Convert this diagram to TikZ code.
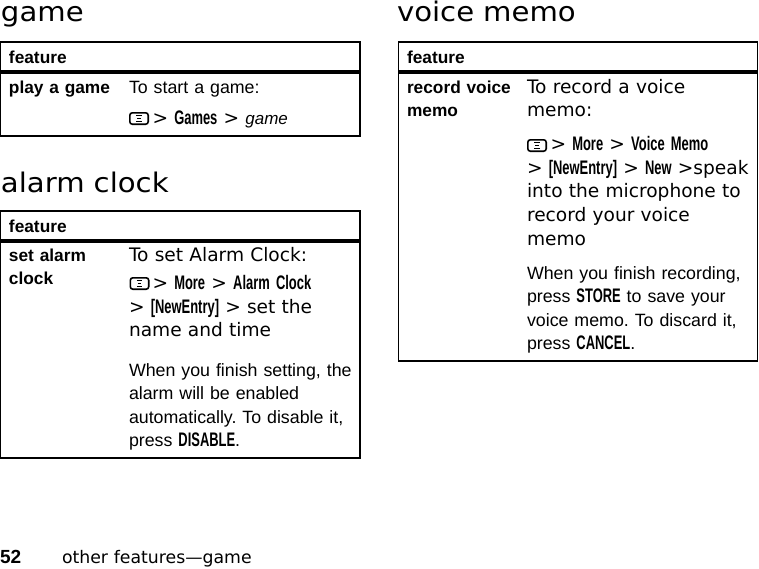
\documentclass[tikz,border=0pt]{standalone}
\usepackage{fontspec}
\setmainfont{Liberation Sans}
\newfontfamily\widefont{DejaVu Sans}
\newfontfamily\headfont[FakeStretch=1.08]{DejaVu Sans}
\newfontfamily\narrowfont{Liberation Sans}
\newfontfamily\condfont[FakeStretch=0.66]{Liberation Sans}
\newcommand\wtext{\widefont\fontsize{18.6}{23.8}\selectfont}
\newcommand\ntext{\narrowfont\fontsize{17.8}{23.6}\selectfont}
\newcommand\btext{\narrowfont\bfseries\fontsize{17.3}{23}\selectfont}
\newcommand\htext{\headfont\fontsize{27}{30}\selectfont}
\newcommand\kw[1]{{\condfont\bfseries\fontsize{19.6}{19.6}\selectfont #1}}
\frenchspacing
\begin{document}
\begin{tikzpicture}[x=1pt,y=-1pt,
  tbl/.style={line width=1.3pt},
  headrule/.style={line width=3.8pt},
  txt/.style={anchor=base west, inner sep=0pt, outer sep=0pt, text width=300pt, align=left},
  iconline/.style={line width=1.6pt},
  menuicon/.pic={
    \draw[iconline, rounded corners=2.5pt] (0.8,0.8) rectangle (19.2,12.2);
    \draw[line width=1.3pt] (7.3,3.6) -- (12.7,3.6) (8.2,6.5) -- (11.8,6.5) (7.3,9.4) -- (12.7,9.4);
  }]
\useasboundingbox (0,0) rectangle (759,568);

% ---------- game ----------
\node[txt,font=\htext] (h1) at (1,21) {game};
\draw[tbl] (0.65,42) rectangle (360,136);
\draw[headrule] (0,72) -- (360.65,72);
\node[txt,font=\btext] (f1) at (9,63) {feature};
\node[txt,font=\btext] (l1) at (9,93) {play a game};
\node[txt,font=\ntext] (t1a) at (129,93) {To start a game:};
\pic (i1) at (129,112) {menuicon};
\node[txt,font=\wtext] (t1b) at (152.5,124) {> \kw{Games} > {\narrowfont\itshape\fontsize{17}{17}\selectfont game}};

% ---------- alarm clock ----------
\node[txt,font=\htext] (h2) at (1,192) {alarm clock};
\draw[tbl] (0.65,211) rectangle (360,458);
\draw[headrule] (0,241) -- (360.65,241);
\node[txt,font=\btext] (f2) at (9,232) {feature};
\node[txt,font=\btext] (l2) at (9,261) {set alarm\\clock};
\node[txt,font=\wtext] (t2a) at (129,261) {To set Alarm Clock:};
\pic (i2) at (129.5,277) {menuicon};
\node[txt,font=\wtext] (t2b) at (152.5,289) {> \kw{More} > \kw{Alarm Clock}};
\node[txt,font=\wtext] (t2c) at (129,313) {> \kw{[NewEntry]} > set the\\name and time};
\node[txt,font=\ntext] (t2d) at (129,376) {When you finish setting, the\\alarm will be enabled\\automatically. To disable it,\\press \kw{DISABLE}.};

% ---------- voice memo ----------
\node[txt,font=\htext] (h3) at (397,21) {voice memo};
\draw[tbl] (398.65,42) rectangle (757.5,361);
\draw[headrule] (398,72) -- (758.15,72);
\node[txt,font=\btext] (f3) at (407,63) {feature};
\node[txt,font=\btext] (l3) at (407,93) {record voice\\memo};
\node[txt,font=\wtext] (t3a) at (527,93) {To record a voice\\memo:};
\pic (i3) at (527,139) {menuicon};
\node[txt,font=\wtext] (t3b) at (550.5,150) {> \kw{More} > \kw{Voice Memo}};
\node[txt,font=\wtext] (t3c) at (527,174) {> \kw{[NewEntry]} > \kw{New} >speak\\into the microphone to\\record your voice\\memo};
\node[txt,font=\ntext] (t3d) at (527,279) {When you finish recording,\\press \kw{STORE} to save your\\voice memo. To discard it,\\press \kw{CANCEL}.};

% ---------- footer ----------
\node[txt,font=\narrowfont\bfseries\fontsize{19}{19}\selectfont] (pg) at (0,563) {52};
\node[txt,font=\widefont\fontsize{17.3}{20}\selectfont] (ft) at (62,563) {other features—game};
\end{tikzpicture}
\end{document}
